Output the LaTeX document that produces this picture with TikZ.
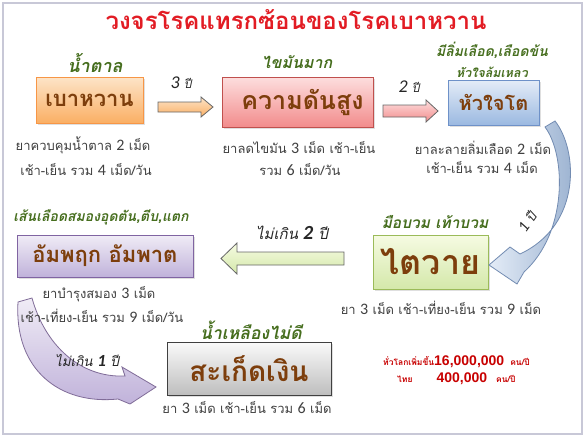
\documentclass[tikz,border=0pt]{standalone}
\usepackage{fontspec}
\setmainfont[Script=Thai]{Loma}
\newfontfamily\lat{Carlito}
\newfontfamily\arl{Liberation Sans}
\usetikzlibrary{shadows}
\definecolor{framec}{RGB}{200,200,215}
\definecolor{titlered}{RGB}{226,28,36}
\definecolor{lblgreen}{RGB}{70,110,30}
\definecolor{bodygray}{RGB}{64,64,64}
\definecolor{wordbrown}{RGB}{125,62,12}
\definecolor{statred}{RGB}{200,0,0}
\definecolor{labelc}{RGB}{38,38,38}
\definecolor{orA}{RGB}{253,228,200}\definecolor{orB}{RGB}{250,175,100}\definecolor{orD}{RGB}{247,150,70}
\definecolor{pkA}{RGB}{253,222,222}\definecolor{pkB}{RGB}{242,140,140}\definecolor{pkD}{RGB}{192,80,77}
\definecolor{blA}{RGB}{228,236,247}\definecolor{blB}{RGB}{155,185,225}\definecolor{blD}{RGB}{110,145,200}
\definecolor{grA}{RGB}{246,251,226}\definecolor{grB}{RGB}{212,232,170}\definecolor{grD}{RGB}{155,187,89}
\definecolor{puA}{RGB}{240,236,246}\definecolor{puB}{RGB}{192,178,218}\definecolor{puD}{RGB}{128,100,162}
\definecolor{gyA}{RGB}{250,250,250}\definecolor{gyB}{RGB}{190,190,190}\definecolor{gyD}{RGB}{64,64,64}
\newcommand\dg[1]{{\lat\fontsize{16}{14}\selectfont #1}}
\tikzset{
  dbox/.style={draw, line width=1pt, inner sep=0pt, text=wordbrown,
     drop shadow={opacity=0.25, shadow xshift=2pt, shadow yshift=-2pt}},
  body/.style={text=bodygray, font=\fontsize{13}{14}\selectfont, inner sep=0pt},
  lbl/.style={text=lblgreen, font=\bfseries\itshape\fontsize{14}{14}\selectfont, inner sep=0pt},
  alabel/.style={text=labelc, font=\itshape\fontsize{12}{12}\selectfont, inner sep=0pt},
  stat/.style={text=statred, font=\bfseries\fontsize{8.5}{10}\selectfont, inner sep=0pt},
  barrow/.style={draw=gray!80!black, line width=0.8pt}
}
\begin{document}
\begin{tikzpicture}[x=1pt,y=-1pt]
\useasboundingbox (0,0) rectangle (586,437);
\fill[white] (0,0) rectangle (586,437);
\draw[framec, line width=2pt] (3,3) rectangle (582,434);

% title
\node[text=titlered, font=\bfseries\fontsize{24}{24}\selectfont, inner sep=0pt] (title) at (296,20) {วงจรโรคแทรกซ้อนของโรคเบาหวาน};

% curved arrow (behind its text)
\path[draw=puD!70!gray, line width=0.8pt, top color=puA, bottom color=puB]
  (18,302) .. controls (14,370) and (60,405) .. (118,399) -- (130,404) -- (156,387)
  -- (122,367) -- (125,376) .. controls (80,378) and (45,345) .. (32,298) -- cycle;

% disease boxes
\node[dbox, draw=orD, top color=orA, bottom color=orB, minimum width=107pt, minimum height=46pt, font=\bfseries\fontsize{22}{22}\selectfont] (dm) at (89.5,100) {เบาหวาน};
\node[dbox, draw=pkD, top color=pkA, bottom color=pkB, minimum width=151pt, minimum height=50pt, font=\bfseries\fontsize{25}{25}\selectfont] (ht) at (297.5,102) {\hspace{10pt}ความดันสูง};
\node[dbox, draw=blD, top color=blA, bottom color=blB, minimum width=91pt, minimum height=45pt, font=\bfseries\fontsize{20}{20}\selectfont] (hr) at (493.5,102.5) {หัวใจโต};
\node[dbox, draw=grD, top color=grA, bottom color=grB, minimum width=115pt, minimum height=54pt, font=\bfseries\fontsize{34}{34}\selectfont] (kd) at (430.5,262) {ไตวาย};
\node[dbox, draw=puD, top color=puA, bottom color=puB, minimum width=176pt, minimum height=42pt, font=\bfseries\fontsize{22}{22}\selectfont] (st) at (105,256) {อัมพฤก อัมพาต};
\node[dbox, draw=gyD, top color=gyA, bottom color=gyB, minimum width=164pt, minimum height=53pt, font=\bfseries\fontsize{28}{28}\selectfont] (ps) at (249,368.5) {สะเก็ดเงิน};

% green labels
\node[lbl, font=\bfseries\itshape\fontsize{18}{18}\selectfont] (g1) at (95,63) {น้ำตาล};
\node[lbl, font=\bfseries\itshape\fontsize{16}{16}\selectfont] (g2) at (297,62) {ไขมันมาก};
\node[lbl] (g3) at (492,50) {มีลิ่มเลือด,เลือดข้น};
\node[lbl, font=\bfseries\itshape\fontsize{12.5}{12.5}\selectfont] (g4) at (492,72) {หัวใจล้มเหลว};
\node[lbl] (g5) at (101,217) {เส้นเลือดสมองอุดตัน,ตีบ,แตก};
\node[lbl, font=\bfseries\itshape\fontsize{15.5}{15.5}\selectfont] (g6) at (435,222) {มือบวม เท้าบวม};
\node[lbl, font=\bfseries\itshape\fontsize{17.5}{17.5}\selectfont] (g7) at (251,330) {น้ำเหลืองไม่ดี};

% medication texts
\node[body] (t1a) at (83,145) {ยาควบคุมน้ำตาล \dg{2} เม็ด};
\node[body] (t1b) at (86,170) {เช้า-เย็น รวม \dg{4} เม็ด/วัน};
\node[body] (t2a) at (299,148) {ยาลดไขมัน \dg{3} เม็ด เช้า-เย็น};
\node[body] (t2b) at (300,170) {รวม \dg{6} เม็ด/วัน};
\node[body] (t3a) at (483,148) {ยาละลายลิ่มเลือด \dg{2} เม็ด};
\node[body] (t3b) at (482,168) {เช้า-เย็น รวม \dg{4} เม็ด};
\node[body] (t4) at (441,308) {ยา \dg{3} เม็ด เช้า-เที่ยง-เย็น รวม \dg{9} เม็ด};
\node[body] (t5a) at (99,294) {ยาบำรุงสมอง \dg{3} เม็ด};
\node[body] (t5b) at (102,316) {เช้า-เที่ยง-เย็น รวม \dg{9} เม็ด/วัน};
\node[body] (t6) at (247,408) {ยา \dg{3} เม็ด เช้า-เย็น รวม \dg{6} เม็ด};

% block arrows
\path[barrow, top color=orA, bottom color=orB]
  (158,102) -- (201,102) -- (201,97) -- (213,107) -- (201,117) -- (201,112) -- (158,112) -- cycle;
\path[barrow, top color=pkA, bottom color=pkB]
  (383,105) -- (426,105) -- (426,100) -- (438,111) -- (426,122) -- (426,117) -- (383,117) -- cycle;
\path[barrow, top color=grA, bottom color=grB]
  (344,252) -- (237,252) -- (237,243) -- (221,258.5) -- (237,274) -- (237,265) -- (344,265) -- cycle;

% curved arrow heart -> kidney
\path[draw=blD!70!gray, line width=0.8pt, left color=blA, right color=blB!80!gray]
  (555,121) .. controls (578,150) and (582,225) .. (520,254) -- (510,247) -- (489,265)
  -- (517,284) -- (524,272) .. controls (568,232) and (566,155) .. (545,127) -- cycle;

% arrow labels
\node[alabel] (l1) at (181,83) {{\lat\fontsize{18}{18}\selectfont\itshape 3} ปี};
\node[alabel] (l2) at (409,87) {{\lat\fontsize{18}{18}\selectfont\itshape 2} ปี};
\node[alabel, font=\itshape\fontsize{15}{15}\selectfont] (l3) at (292,233) {ไม่เกิน {\lat\bfseries\fontsize{20}{20}\selectfont\itshape 2} ปี};
\node[alabel, font=\itshape\fontsize{13.5}{13.5}\selectfont] (l4) at (87,360) {ไม่เกิน {\lat\bfseries\fontsize{17}{17}\selectfont\itshape 1} ปี};
\node[alabel, rotate=55, font=\itshape\fontsize{13}{13}\selectfont] (l5) at (527,222) {{\lat\fontsize{16}{16}\selectfont\itshape 1}\hspace{4pt}ปี};

% statistics
\node[stat, anchor=west] (s1) at (383,362) {ทั่วโลกเพิ่มขึ้น{\arl\bfseries\fontsize{14}{12}\selectfont 16,000,000}\hspace{6pt}คน/ปี};
\node[stat, anchor=west] (s2) at (397,379) {ไทย\hspace{24pt}{\arl\bfseries\fontsize{14}{12}\selectfont 400,000}\hspace{9pt}คน/ปี};
\end{tikzpicture}
\end{document}
